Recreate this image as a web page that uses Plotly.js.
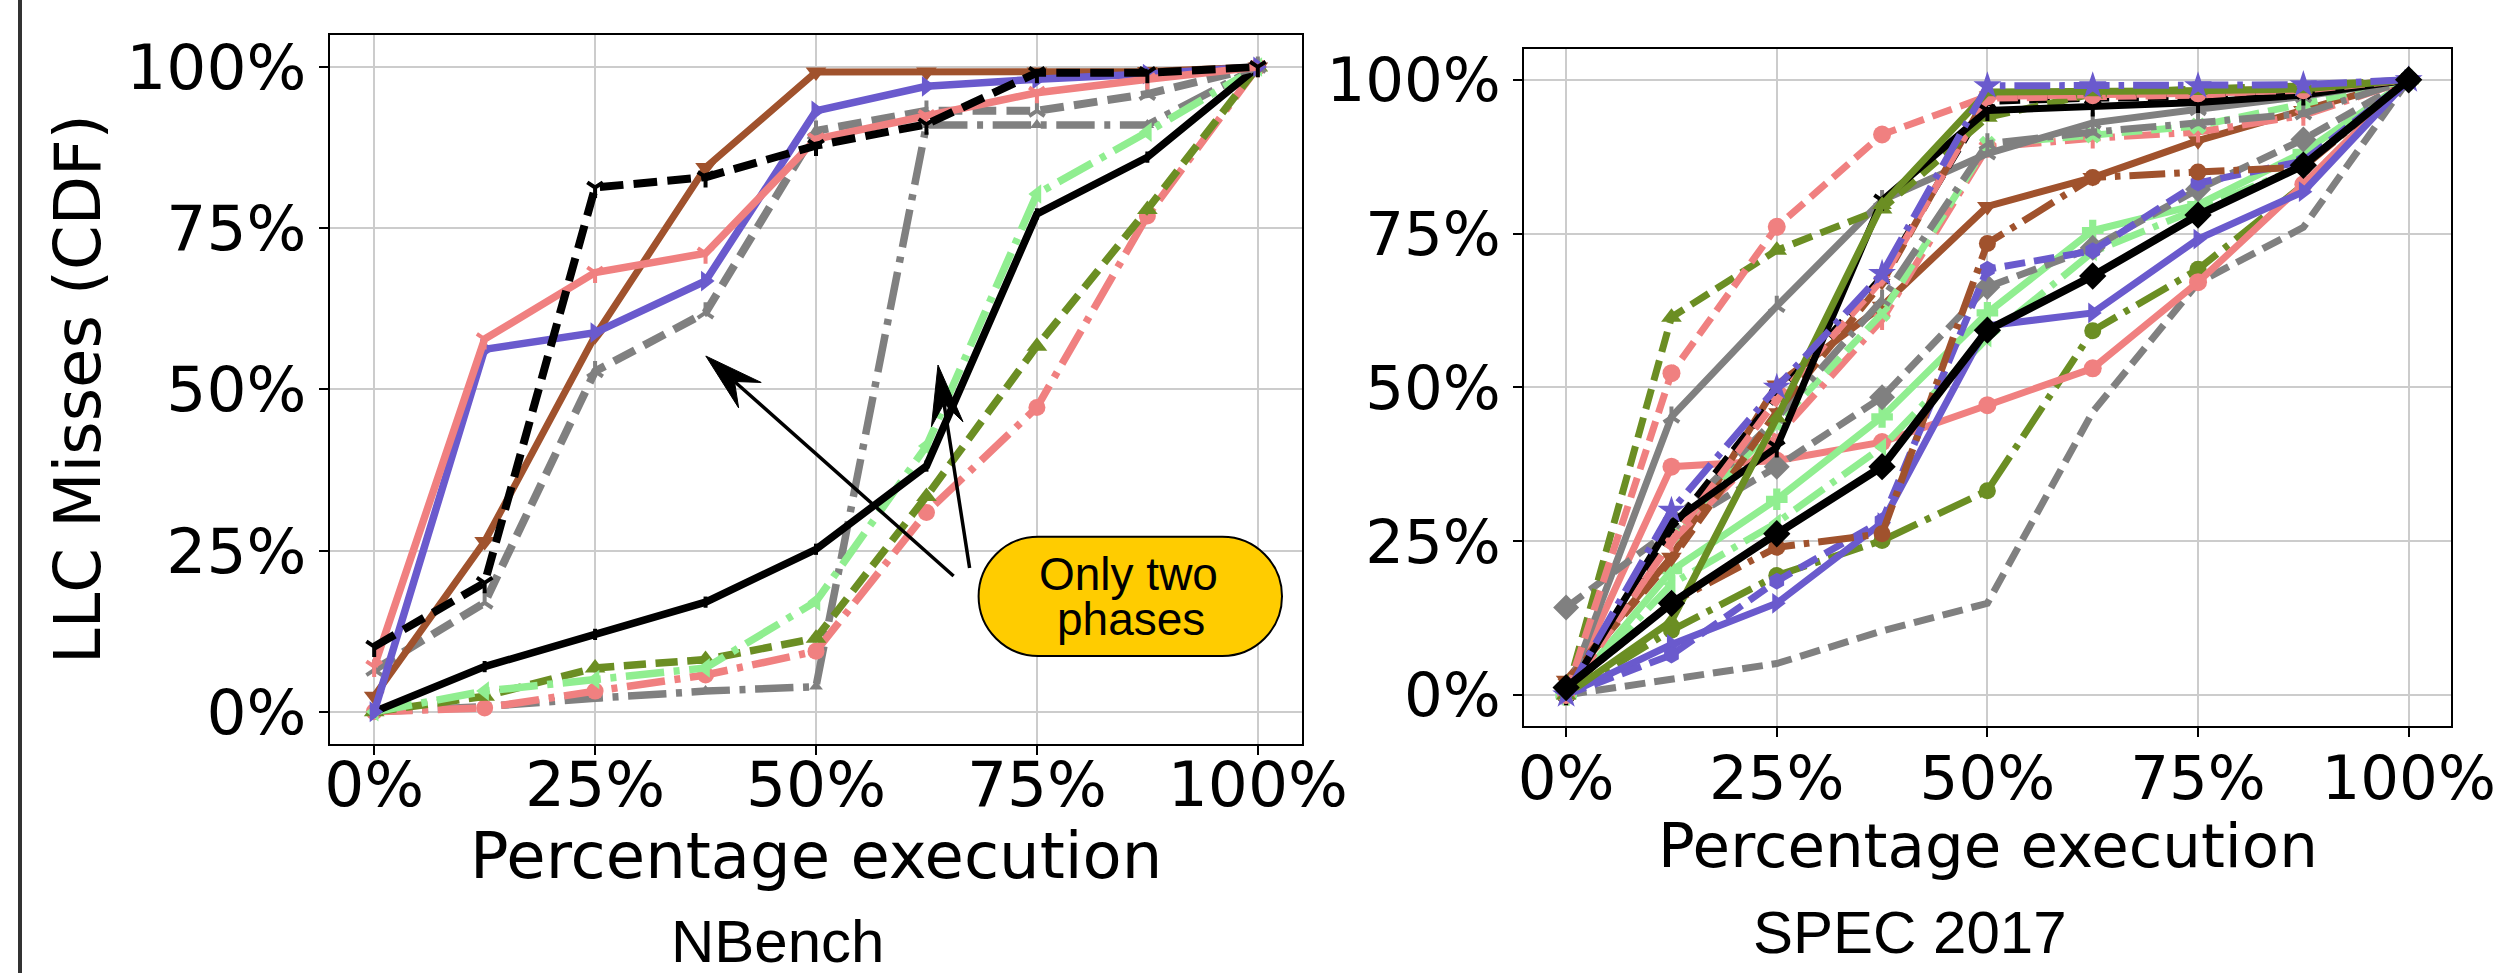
<!DOCTYPE html>
<html><head><meta charset="utf-8">
<script src="https://cdn.plot.ly/plotly-3.0.1.min.js"></script>
<style>html,body{margin:0;padding:0;background:#fff;}#chart{width:2508px;height:973px;}</style>
</head><body><div id="chart"></div>
<script>
// ---------- data ----------
const pct = [0, 12.5, 25, 37.5, 50, 62.5, 75, 87.5, 100];
const tickVals = [0, 25, 50, 75, 100];
const tickText = ['0%', '25%', '50%', '75%', '100%'];

// NBench (left panel)
const nbBrown      = [2.4, 26.4, 58.3, 84.4, 99.2, 99.2, 99.2, 99.3, 100];
const nbBlue       = [0, 56.2, 58.8, 66.8, 93.2, 97.0, 98.1, 98.9, 100];
const nbCoral      = [7.0, 57.8, 68.1, 71.1, 88.8, 92.4, 96.0, 98.1, 100];
const nbBlackDash  = [10.1, 20.0, 81.3, 82.9, 87.8, 91.1, 99.1, 99.1, 100];
const nbGreyDash   = [6.5, 16.9, 52.8, 61.9, 90.1, 93.2, 93.2, 95.8, 100];
const nbGreyDD     = [0, 0.8, 2.1, 3.2, 3.9, 91.0, 91.0, 91.0, 100];
const nbBlack      = [0, 7.0, 12.0, 17.0, 25.2, 38.1, 77.2, 86.0, 100];
const nbLgreenDD   = [0, 3.2, 5.0, 6.8, 17.1, 41.2, 80.3, 89.9, 100];
const nbOliveDash  = [0, 2.4, 6.8, 8.1, 11.4, 33.4, 56.7, 77.9, 100];
const nbCoralDD    = [0, 0.6, 3.2, 5.7, 9.4, 30.9, 47.2, 76.9, 100];

// SPEC 2017 (right panel)
const spGreyDash2   = [0, 2.5, 5.1, 10.4, 14.9, 46.0, 67.0, 76.0, 100];
const spOliveDD     = [0, 10.5, 19.4, 25.1, 33.2, 59.2, 69.2, 82.9, 100];
const spCoralSolid  = [0, 37.1, 38.1, 41.1, 47.1, 53.1, 67.1, 83.0, 100];
const spLgreenDD    = [0, 18.0, 28.0, 40.3, 58.0, 72.0, 79.0, 86.0, 100];
const spBlueSolid   = [0, 8.2, 14.9, 28.0, 60.0, 62.1, 74.1, 81.8, 100];
const spLgreenSolid = [0, 20.2, 31.8, 45.2, 62.1, 75.5, 79.7, 88.2, 100];
const spGreyDashD   = [14.2, 26.9, 37.1, 48.4, 66.3, 72.7, 82.2, 90.3, 100];
const spBlueDash    = [0, 6.5, 18.5, 28.3, 69.2, 72.2, 83.2, 86.8, 100];
const spBrownDD     = [1.0, 15.0, 24.0, 26.2, 73.4, 84.1, 85.0, 85.8, 100];
const spBrownSolid  = [2.4, 22.4, 50.4, 63.2, 79.4, 84.1, 90.1, 95.0, 100];
const spCoralDD     = [0, 25.0, 42.0, 61.0, 89.0, 90.5, 91.5, 94.2, 100];
const spLgreenDash  = [0, 26.0, 44.0, 62.0, 89.5, 91.0, 92.5, 96.1, 100];
const spGreyDD      = [0, 28.0, 45.0, 64.2, 89.6, 91.5, 93.0, 94.5, 100];
const spGreySolid   = [0, 45.2, 63.2, 80.4, 88.0, 93.0, 95.2, 97.3, 100];
const spBlackDash   = [0, 27.0, 48.7, 68.0, 96.5, 97.0, 97.2, 98.0, 100];
const spBrownDash   = [2.0, 22.0, 46.0, 67.0, 97.5, 97.8, 98.0, 98.5, 100];
const spCoralDash2  = [0, 25.0, 48.0, 67.5, 97.0, 97.2, 97.5, 98.0, 100];
const spOliveDash   = [0, 61.4, 72.3, 79.0, 93.9, 97.7, 98.5, 99.0, 100];
const spBlackSolid  = [0, 28.0, 40.3, 80.4, 95.0, 95.7, 96.3, 97.5, 100];
const spCoralDash1  = [0, 52.3, 76.1, 91.1, 97.3, 97.5, 97.8, 98.3, 100];
const spOliveSolid  = [0, 12.0, 45.0, 79.7, 98.0, 98.0, 98.2, 98.5, 100];
const spBlueDD      = [0, 30.0, 50.0, 68.5, 99.0, 99.0, 99.0, 99.2, 100];
const spBlackD      = [1.2, 14.9, 26.2, 37.1, 59.3, 68.1, 78.0, 86.1, 100];

// ---------- styling ----------
const C = {black:'#000000', brown:'#A0522D', blue:'#6A5ACD', coral:'#F08080',
           grey:'#808080', olive:'#6B8E23', lgreen:'#90EE90'};
function dashFor(style, w){
  const b = 0.8 * w;
  if(style==='dash') return (3.7*b)+'px,'+(1.6*b)+'px';
  if(style==='dashdot') return (6.4*b)+'px,'+(1.6*b)+'px,'+(b)+'px,'+(1.6*b)+'px';
  return 'solid';
}
function tr(y, color, style, symbol, side, w, ms){
  const t = {
    x: pct, y: y, type:'scatter', mode: symbol ? 'lines+markers' : 'lines',
    xaxis: side==='L' ? 'x' : 'x2', yaxis: side==='L' ? 'y' : 'y2',
    line:{color:color, width:w, dash:dashFor(style,w)},
    showlegend:false, hoverinfo:'skip'
  };
  if(symbol){
    const open = /^(y-|x-thin|cross-thin|line)/.test(symbol);
    t.marker = {symbol:symbol, size:ms, color:color,
      line: open ? {color:color, width:4} : {color:color, width:0}};
  }
  return t;
}
const LW = 7.5, RW = 7;
const traces = [
  // left
  tr(nbGreyDD,    C.grey,   'dashdot','triangle-up','L',LW,12),
  tr(nbCoralDD,   C.coral,  'dashdot','circle','L',LW,17),
  tr(nbOliveDash, C.olive,  'dash','triangle-up','L',LW,18),
  tr(nbLgreenDD,  C.lgreen, 'dashdot','triangle-left','L',LW,17),
  tr(nbBlack,     C.black,  'solid','line-ns','L',LW,8),
  tr(nbGreyDash,  C.grey,   'dash','y-up','L',LW+0.5,13),
  tr(nbBrown,     C.brown,  'solid','triangle-down','L',LW-0.5,18),
  tr(nbBlue,      C.blue,   'solid','triangle-right','L',LW,18),
  tr(nbCoral,     C.coral,  'solid','y-down','L',LW,13),
  tr(nbBlackDash, C.black,  'dash','y-down','L',LW+0.5,13),
  // right
  tr(spGreyDash2,   C.grey,  'dash',null,'R',RW,0),
  tr(spOliveDD,     C.olive, 'dashdot','circle','R',RW,17),
  tr(spCoralSolid,  C.coral, 'solid','circle','R',RW,18),
  tr(spLgreenDD,    C.lgreen,'dashdot','triangle-left','R',RW,16),
  tr(spBlueSolid,   C.blue,  'solid','triangle-right','R',RW,18),
  tr(spLgreenSolid, C.lgreen,'solid','cross','R',RW,18),
  tr(spGreyDashD,   C.grey,  'dash','diamond','R',RW,20),
  tr(spBlueDash,    C.blue,  'dash','hexagon','R',RW,17),
  tr(spBrownDD,     C.brown, 'dashdot','circle','R',RW,17),
  tr(spBrownSolid,  C.brown, 'solid','triangle-down','R',RW,18),
  tr(spCoralDD,     C.coral, 'dashdot','y-down','R',RW,13),
  tr(spLgreenDash,  C.lgreen,'dash','x','R',RW,15),
  tr(spGreyDD,      C.grey,  'dashdot','y-up','R',RW,13),
  tr(spGreySolid,   C.grey,  'solid','y-up','R',RW,13),
  tr(spBlackDash,   C.black, 'dash','x-thin','R',RW,13),
  tr(spBrownDash,   C.brown, 'dash','triangle-down','R',RW,15),
  tr(spCoralDash2,  C.coral, 'dash','triangle-down','R',RW,15),
  tr(spOliveDash,   C.olive, 'dash','triangle-up','R',RW,18),
  tr(spBlackSolid,  C.black, 'solid','y-down','R',RW,13),
  tr(spCoralDash1,  C.coral, 'dash','circle','R',RW,18),
  tr(spOliveSolid,  C.olive, 'solid','triangle-up','R',RW,17),
  tr(spBlueDD,      C.blue,  'dashdot','star','R',RW,21),
  tr(spBlackD,      C.black, 'solid','diamond','R',RW+1,21)
];

// ---------- layout helpers (pixel -> paper) ----------
const W = 2508, H = 973;
const PX = x => x / W, PY = y => 1 - y / H;

function ax(domain, fs, anchor, standoff){
  const a = {domain:domain, range:[-5,105], tickmode:'array', tickvals:tickVals, ticktext:tickText,
    showgrid:true, gridcolor:'#cccccc', gridwidth:2, zeroline:false,
    showline:true, mirror:true, linecolor:'#000', linewidth:2,
    ticks:'outside', ticklen:9, tickwidth:2, tickcolor:'#000',
    tickfont:{family:'DejaVu Sans', size:fs, color:'#000'}, fixedrange:true, anchor:anchor};
  if(standoff !== undefined) a.ticklabelstandoff = standoff;
  return a;
}

const layout = {
  width: W, height: H, margin:{l:0,r:0,t:0,b:0,pad:0},
  paper_bgcolor:'#fff', plot_bgcolor:'#fff', showlegend:false,
  xaxis:  ax([330/W, 1302/W], 63, 'y', -25),
  yaxis:  ax([PY(744), PY(34.7)], 63, 'x'),
  xaxis2: ax([1524/W, 2450.8/W], 61, 'y2', -11),
  yaxis2: ax([PY(725.7), PY(49)], 61, 'x2'),
  annotations: [], shapes: []
};

function txt(text, x, y, size, family, angle, h, valign){
  const a = {text:text, x:PX(x), y:PY(y), xref:'paper', yref:'paper',
    xanchor:'center', yanchor:'middle', showarrow:false, textangle: angle||0,
    font:{family:family, size:size, color:'#000'}};
  if(h) a.height = h;
  if(valign) a.valign = valign;
  layout.annotations.push(a);
}
txt('Percentage execution', 816, 856, 64, 'DejaVu Sans');
txt('Percentage execution', 1987.5, 845, 61, 'DejaVu Sans');
txt('LLC Misses (CDF)', 78, 389, 64, 'DejaVu Sans', -90);
txt('NBench', 777.5, 941, 60, 'Liberation Sans', 0, 50);
txt('SPEC 2017', 1910, 932, 60, 'Liberation Sans', 0, 50);

// left border line
layout.shapes.push({type:'line', xref:'paper', yref:'paper', x0:PX(20), x1:PX(20), y0:0, y1:1,
  line:{color:'#333', width:4}});

// pill-shaped callout box
(function(){
  const L=978.6, R=1282, T=536.7, B=656, r=(B-T)/2, k=0.5523*r, cy=(T+B)/2;
  const p = (x,y) => PX(x)+','+PY(y);
  const path = 'M'+p(L+r,T)+' L'+p(R-r,T)+
    ' C'+p(R-r+k,T)+' '+p(R,cy-k)+' '+p(R,cy)+
    ' C'+p(R,cy+k)+' '+p(R-r+k,B)+' '+p(R-r,B)+
    ' L'+p(L+r,B)+
    ' C'+p(L+r-k,B)+' '+p(L,cy+k)+' '+p(L,cy)+
    ' C'+p(L,cy-k)+' '+p(L+r-k,T)+' '+p(L+r,T)+' Z';
  layout.shapes.push({type:'path', xref:'paper', yref:'paper', path:path,
    fillcolor:'#FFCC00', line:{color:'#000', width:2}, layer:'above'});
})();
txt('Only two', 1128, 578, 46, 'Liberation Sans', 0, 44, 'bottom');
txt('phases', 1131, 623, 46, 'Liberation Sans', 0, 44, 'bottom');

// arrows
function arrow(tail, tip, Lh, Wh){
  const dx=tip[0]-tail[0], dy=tip[1]-tail[1], len=Math.hypot(dx,dy);
  const ux=dx/len, uy=dy/len, nx=-uy, ny=ux;
  const bx=tip[0]-ux*Lh, by=tip[1]-uy*Lh;
  const w1=[bx+nx*Wh/2, by+ny*Wh/2], w2=[bx-nx*Wh/2, by-ny*Wh/2];
  const nt=[tip[0]-ux*Lh*0.65, tip[1]-uy*Lh*0.65];
  layout.shapes.push({type:'line', xref:'paper', yref:'paper',
    x0:PX(tail[0]), y0:PY(tail[1]), x1:PX(nt[0]), y1:PY(nt[1]),
    line:{color:'#000', width:3.5}, layer:'above'});
  const p = q => PX(q[0])+','+PY(q[1]);
  layout.shapes.push({type:'path', xref:'paper', yref:'paper',
    path:'M'+p(tip)+' L'+p(w1)+' L'+p(nt)+' L'+p(w2)+' Z',
    fillcolor:'#000', line:{color:'#000', width:1}, layer:'above'});
}
arrow([953.6,576],[705.8,356],59,34);
arrow([969.6,568],[938,365],60,32);

Plotly.newPlot('chart', traces, layout, {staticPlot:true, displayModeBar:false});
</script></body></html>
